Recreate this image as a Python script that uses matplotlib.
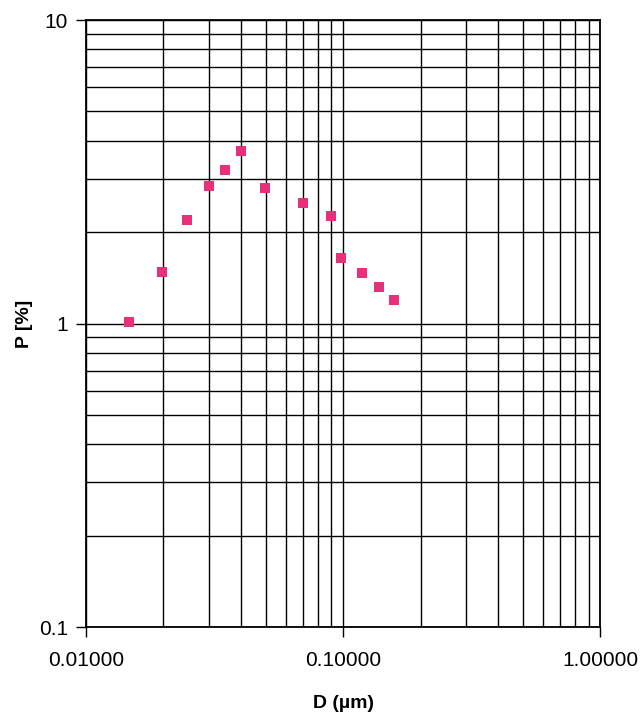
import matplotlib.pyplot as plt
from matplotlib.ticker import LogLocator, FixedLocator, FormatStrFormatter, NullFormatter

plt.rcParams['font.family'] = ['Liberation Sans', 'DejaVu Sans']

# particle diameter (um) and fraction (%)
diameter = [0.0147, 0.0197, 0.0248, 0.030, 0.0348, 0.040, 0.0498,
            0.0697, 0.0893, 0.0985, 0.118, 0.138, 0.157]
percent = [1.01, 1.48, 2.20, 2.84, 3.21, 3.71, 2.79,
           2.49, 2.26, 1.64, 1.47, 1.32, 1.20]

x_major = [0.01, 0.1, 1.0]
y_major = [0.1, 1, 10]

fig = plt.figure(figsize=(6.42, 7.15), dpi=100)
ax = fig.add_axes([0.134, 0.123, 0.801, 0.849])

ax.scatter(diameter, percent, marker='s', s=48, color='#E8307A', zorder=3,
           linewidths=0)

ax.set_xscale('log')
ax.set_yscale('log')
ax.set_xlim(0.01, 1.0)
ax.set_ylim(0.1, 10)

ax.xaxis.set_major_locator(FixedLocator(x_major))
ax.yaxis.set_major_locator(FixedLocator(y_major))
ax.xaxis.set_minor_locator(LogLocator(base=10, subs=range(2, 10)))
ax.yaxis.set_minor_locator(LogLocator(base=10, subs=range(2, 10)))
ax.xaxis.set_major_formatter(FormatStrFormatter('%.5f'))
ax.yaxis.set_major_formatter(FormatStrFormatter('%g'))
ax.xaxis.set_minor_formatter(NullFormatter())
ax.yaxis.set_minor_formatter(NullFormatter())

ax.grid(True, which='both', color='black', linewidth=1.0)
ax.set_axisbelow(True)
ax.tick_params(which='major', length=7, width=1, labelsize=15)
ax.tick_params(axis='x', which='major', pad=10)
ax.tick_params(axis='y', which='major', pad=6)
ax.tick_params(which='minor', length=0)

for sp in ax.spines.values():
    sp.set_linewidth(1.3)

ax.set_xlabel('D (µm)', fontsize=14, fontweight='bold', labelpad=18)
ax.set_ylabel('P [%]', fontsize=14, fontweight='bold', labelpad=4)

fig.savefig('out.png', dpi=100)
